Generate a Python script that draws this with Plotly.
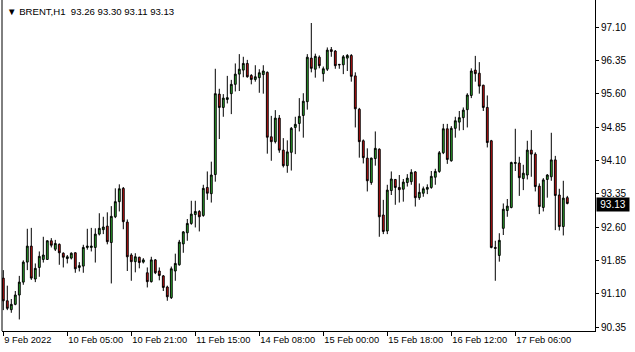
import plotly.graph_objects as go

opens = [91.45, 90.94, 90.74, 90.86, 91.07, 91.36, 91.81, 92.17, 91.43, 91.69,
         91.87, 91.87, 92.29, 92.10, 92.21, 92.01, 91.89, 91.90, 92.02, 91.69,
         91.72, 92.14, 92.14, 92.14, 92.44, 92.54, 92.62, 92.25, 92.83, 93.17,
         93.47, 92.71, 91.97, 91.82, 91.92, 91.81, 91.57, 91.37, 91.86, 91.61,
         91.50, 91.25, 91.01, 91.61, 91.75, 92.22, 92.47, 92.68, 92.88, 92.95,
         92.86, 93.49, 93.35, 93.78, 95.59, 95.29, 95.47, 95.60, 95.81, 96.04,
         96.13, 96.28, 96.01, 95.92, 95.96, 96.03, 96.08, 94.63, 94.52, 95.05,
         94.33, 93.98, 94.28, 94.84, 94.93, 95.11, 95.42, 96.40, 96.15, 96.42,
         96.05, 96.15, 96.59, 96.56, 96.26, 96.25, 96.40, 96.46, 96.00, 95.25,
         94.54, 94.15, 93.60, 94.14, 94.35, 92.87, 92.51, 93.42, 93.67, 93.49,
         93.45, 93.60, 93.62, 93.84, 93.26, 93.36, 93.45, 93.49, 93.72, 93.85,
         94.27, 94.81, 94.09, 94.82, 94.96, 95.06, 95.24, 95.56, 96.13, 96.06,
         95.79, 95.29, 94.54, 92.14, 91.96, 92.57, 92.97, 93.04, 94.03, 94.04,
         93.69, 93.77, 94.33, 94.24, 93.52, 93.04, 93.67, 93.73, 94.11, 93.32,
         92.61, 93.26]
highs = [91.63, 91.28, 90.98, 91.16, 91.50, 91.85, 92.56, 92.58, 91.78, 92.05,
         92.38, 92.30, 92.35, 92.31, 92.23, 92.03, 91.97, 92.03, 92.03, 91.81,
         92.20, 92.56, 92.58, 92.57, 92.91, 92.83, 92.93, 93.07, 93.47, 93.56,
         93.50, 92.77, 92.01, 92.01, 91.93, 91.90, 91.69, 91.93, 91.88, 91.69,
         91.52, 91.28, 91.71, 92.00, 92.31, 92.51, 92.78, 93.19, 93.19, 92.98,
         93.55, 93.85, 94.07, 96.16, 95.71, 95.59, 96.00, 95.91, 96.28, 96.49,
         96.43, 96.36, 96.04, 96.24, 96.15, 96.24, 96.10, 95.10, 95.23, 95.12,
         94.60, 94.55, 94.85, 95.08, 95.50, 95.61, 96.49, 97.19, 96.50, 96.46,
         96.21, 96.64, 96.65, 96.58, 96.26, 96.47, 96.49, 96.49, 96.08, 95.28,
         94.57, 94.37, 94.16, 94.75, 94.37, 93.21, 93.55, 93.85, 93.68, 93.77,
         93.68, 93.79, 93.90, 93.86, 93.58, 93.51, 93.56, 93.86, 93.91, 94.31,
         94.92, 94.92, 94.87, 95.08, 95.21, 95.29, 95.61, 96.17, 96.45, 96.31,
         95.80, 95.56, 94.56, 92.29, 92.46, 93.13, 93.23, 94.07, 94.81, 94.18,
         94.00, 94.54, 94.78, 94.28, 93.58, 93.70, 93.79, 94.72, 94.20, 93.46,
         93.64, 93.30]
lows = [90.73, 90.73, 90.67, 90.84, 90.52, 91.30, 91.63, 91.41, 91.36, 91.48,
        91.80, 91.86, 92.14, 92.06, 91.75, 91.69, 91.78, 91.87, 91.57, 91.60,
        91.57, 92.09, 92.05, 91.80, 92.41, 92.44, 92.21, 91.33, 92.80, 92.95,
        92.55, 91.61, 91.39, 91.58, 91.67, 91.78, 91.24, 91.35, 91.54, 91.40,
        91.16, 90.94, 90.98, 91.39, 91.73, 92.02, 92.29, 92.65, 92.59, 92.50,
        92.83, 93.21, 93.15, 93.62, 94.58, 95.08, 95.38, 95.14, 95.65, 95.66,
        95.97, 95.96, 95.81, 95.87, 95.62, 95.60, 94.25, 94.09, 94.48, 94.27,
        93.94, 93.82, 93.87, 94.24, 94.75, 94.61, 95.24, 96.08, 95.96, 96.17,
        95.87, 96.11, 96.43, 96.16, 96.16, 96.04, 96.11, 95.87, 94.84, 94.16,
        94.03, 93.40, 93.55, 93.98, 92.38, 92.44, 92.44, 93.32, 93.10, 93.15,
        93.17, 93.51, 93.55, 93.06, 93.21, 93.28, 93.34, 93.46, 93.55, 93.82,
        94.24, 94.02, 94.07, 94.61, 94.77, 94.78, 94.84, 95.50, 95.87, 95.60,
        95.21, 94.39, 92.12, 91.39, 91.82, 92.42, 92.83, 93.02, 93.86, 93.30,
        93.43, 93.67, 93.73, 93.40, 92.89, 92.95, 93.26, 93.64, 92.53, 92.52,
        92.41, 93.11]
closes = [90.94, 90.77, 90.86, 91.07, 91.36, 91.81, 92.17, 91.45, 91.67, 91.94,
          91.97, 92.29, 92.19, 92.23, 92.02, 91.92, 91.93, 92.01, 91.66, 91.73,
          92.14, 92.17, 92.17, 92.44, 92.57, 92.60, 92.27, 92.84, 93.17, 93.46,
          92.72, 91.93, 91.82, 91.93, 91.80, 91.86, 91.37, 91.86, 91.57, 91.51,
          91.24, 91.03, 91.66, 91.78, 92.26, 92.49, 92.68, 92.89, 92.95, 92.83,
          93.47, 93.36, 93.77, 95.60, 95.29, 95.50, 95.51, 95.81, 96.04, 96.15,
          96.28, 95.98, 95.92, 95.98, 96.07, 96.11, 94.62, 94.52, 95.05, 94.33,
          93.98, 94.29, 94.82, 94.91, 95.09, 95.43, 96.42, 96.17, 96.44, 96.23,
          96.16, 96.58, 96.55, 96.23, 96.25, 96.43, 96.46, 95.99, 95.26, 94.52,
          94.16, 93.64, 94.15, 94.37, 92.83, 92.50, 93.43, 93.68, 93.49, 93.44,
          93.61, 93.70, 93.83, 93.26, 93.38, 93.46, 93.49, 93.74, 93.85, 94.27,
          94.81, 94.12, 94.82, 94.99, 95.06, 95.23, 95.57, 96.11, 96.05, 95.77,
          95.29, 94.50, 92.14, 92.12, 92.30, 93.00, 93.07, 94.05, 94.05, 93.71,
          93.81, 94.33, 94.24, 93.51, 93.06, 93.66, 93.77, 94.11, 93.31, 92.61,
          93.25, 93.13]

tick_index = [0, 16, 32, 48, 64, 80, 96, 112, 128]
tick_labels = ["9 Feb 2022", "10 Feb 05:00", "10 Feb 21:00", "11 Feb 15:00",
               "14 Feb 08:00", "15 Feb 00:00", "15 Feb 18:00", "16 Feb 12:00",
               "17 Feb 06:00"]
price_ticks = [90.35, 91.10, 91.85, 92.60, 93.35, 94.10, 94.85, 95.60, 96.35, 97.10]
last_price = 93.13
title_text = "▼ BRENT,H1&nbsp;&nbsp;93.26 93.30 93.11 93.13"

FONT = "Liberation Sans"
idx = list(range(len(opens)))

fig = go.Figure(go.Candlestick(
    x=idx, open=opens, high=highs, low=lows, close=closes,
    increasing=dict(fillcolor="#2fb12f", line=dict(color="black", width=1)),
    decreasing=dict(fillcolor="#d41414", line=dict(color="black", width=1)),
    whiskerwidth=0, hoverinfo="skip",
))

fig.update_layout(
    width=635, height=352,
    margin=dict(l=2, r=40, t=0, b=21),
    paper_bgcolor="white", plot_bgcolor="white",
    showlegend=False, boxgap=0.35,
    font=dict(family=FONT, size=10, color="black"),
    xaxis=dict(
        range=[-0.325, 147.925], rangeslider=dict(visible=False),
        tickmode="array", tickvals=tick_index, ticktext=tick_labels,
        ticks="outside", ticklen=4, tickcolor="black", tickwidth=1,
        showline=True, linecolor="black", linewidth=1, tickangle=0,
        showgrid=False, zeroline=False, ticklabelposition="outside right",
        tickfont=dict(family=FONT, size=9.3, color="black"),
    ),
    yaxis=dict(
        range=[90.26, 97.7075], side="right",
        tickmode="array", tickvals=price_ticks,
        ticktext=[f"{p:.2f}" for p in price_ticks],
        ticks="outside", ticklen=3, tickcolor="black", tickwidth=1,
        showline=True, linecolor="black", linewidth=1,
        showgrid=False, zeroline=False,
        tickfont=dict(family=FONT, size=10, color="black"),
    ),
    shapes=[dict(type="line", xref="paper", yref="paper", x0=0, x1=0, y0=0, y1=1,
                 line=dict(color="black", width=1))],
    annotations=[
        dict(xref="paper", yref="paper", x=0, y=1, xanchor="left", yanchor="top",
             xshift=3, yshift=-4, text=title_text, showarrow=False,
             font=dict(family=FONT, size=9.6, color="black")),
        dict(xref="paper", yref="y", x=1, y=last_price, xanchor="left", yanchor="middle",
             xshift=1, yshift=-1, text=f"{last_price:.2f}", showarrow=False, bgcolor="black",
             borderpad=1, width=30, align="center",
             font=dict(family=FONT, size=10, color="white")),
    ],
)

fig.write_html("out.html")
